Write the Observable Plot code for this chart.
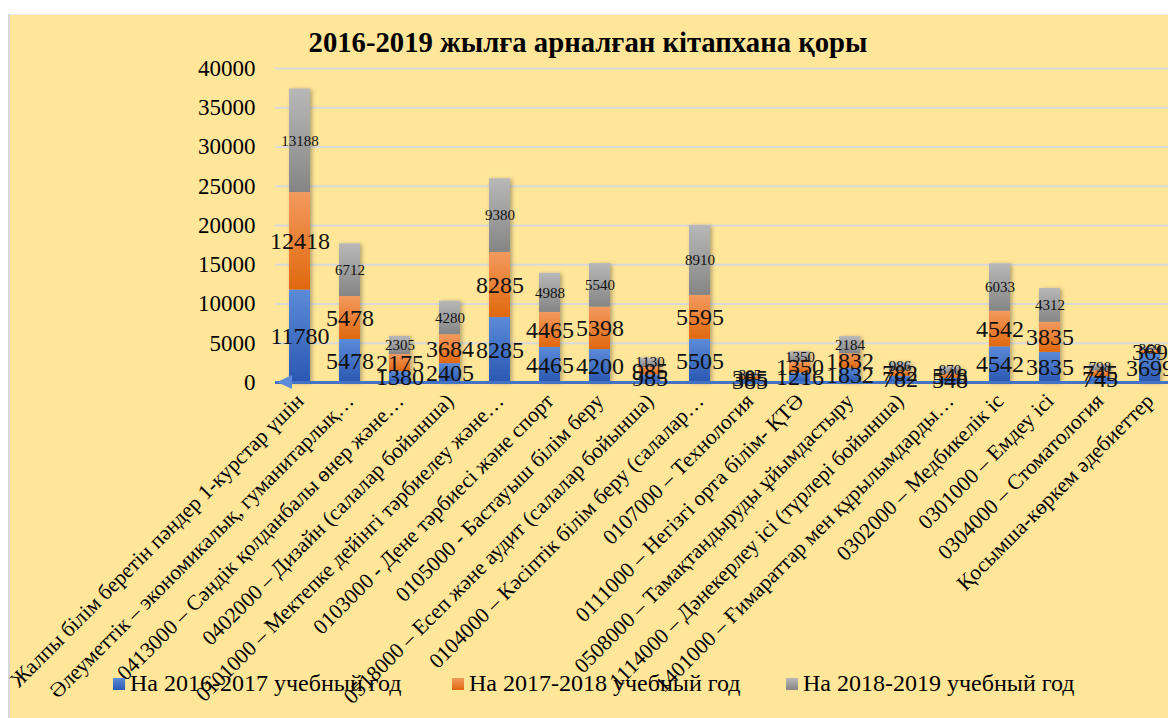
<!DOCTYPE html>
<html><head><meta charset="utf-8">
<script src="https://cdn.jsdelivr.net/npm/d3@7"></script>
<script src="https://cdn.jsdelivr.net/npm/@observablehq/plot@0.6"></script>
<style>
html,body{margin:0;padding:0;background:#fff;}
#page{position:relative;width:1168px;height:718px;overflow:hidden;background:#fff;}
#panel{position:absolute;left:8px;top:14px;width:1160px;height:704px;background:#FFE699;border-left:2px solid #d6d6d6;border-top:1px solid #e6e6e6;box-sizing:border-box;}
#chart{position:absolute;left:0;top:0;}
#chart svg{background:transparent;overflow:visible;}
#chart svg text{font-family:"Liberation Serif",serif !important;}
#title{position:absolute;left:0;width:1176px;top:26px;text-align:center;font-family:"Liberation Serif",serif;font-weight:bold;font-size:28.7px;color:#000;}
.leg{position:absolute;top:670px;display:flex;align-items:center;font-family:"Liberation Serif",serif;font-size:24px;color:#000;white-space:nowrap;}
.sw{width:12px;height:12px;margin-right:5px;}
</style>
</head><body>
<div id="page">
  <div id="panel"></div>
  <div id="chart"></div>
  <div id="title"></div>
  <div id="legend"></div>
</div>
<script>
const chartTitle = "2016-2019 жылға арналған кітапхана қоры";
const categories = [
  "Жалпы білім беретін пәндер 1-курстар үшін",
  "Әлеуметтік – экономикалық, гуманитарлық…",
  "0413000 – Сәндік қолданбалы өнер және…",
  "0402000 – Дизайн (салалар бойынша)",
  "0101000 – Мектепке дейінгі тәрбиелеу және…",
  "0103000 - Дене тәрбиесі және спорт",
  "0105000 - Бастауыш білім беру",
  "0518000 – Есеп және аудит (салалар бойынша)",
  "0104000 – Кәсіптік білім беру (салалар…",
  "0107000 – Технология",
  "0111000 – Негізгі орта білім- ҚТӘ",
  "0508000 – Тамақтандыруды ұйымдастыру",
  "1114000 – Дәнекерлеу ісі (түрлері бойынша)",
  "1401000 – Ғимараттар мен құрылымдарды…",
  "0302000 – Медбикелік іс",
  "0301000 – Емдеу ісі",
  "0304000 – Стоматология",
  "Қосымша-көркем әдебиеттер"
];
const seriesNames = ["На 2016-2017 учебный год", "На 2017-2018 учебный год", "На 2018-2019 учебный год"];
const v2016 = [11780, 5478, 1380, 2405, 8285, 4465, 4200, 985, 5505, 385, 1216, 1832, 782, 548, 4542, 3835, 745, 3699];
const v2017 = [12418, 5478, 2175, 3684, 8285, 4465, 5398, 985, 5595, 385, 1350, 1832, 782, 548, 4542, 3835, 745, 369];
const v2018 = [13188, 6712, 2305, 4280, 9380, 4988, 5540, 1130, 8910, 385, 1350, 2184, 986, 870, 6033, 4312, 798, 369];
const yTicks = [0, 5000, 10000, 15000, 20000, 25000, 30000, 35000, 40000];
const gradients = [
  {id: "g0", top: "#5B8BD8", bottom: "#2A58B2"},
  {id: "g1", top: "#F39A5E", bottom: "#E0680E"},
  {id: "g2", top: "#B8B8B8", bottom: "#858585"}
];

const seriesValues = [v2016, v2017, v2018];
const data = [];
seriesValues.forEach((vals, si) => vals.forEach((v, ci) => data.push({cat: categories[ci], series: seriesNames[si], si, value: v})));

const FONT = "Liberation Serif";
const plot = Plot.plot({
  width: 1168,
  height: 718,
  marginTop: 68,
  marginBottom: 336,
  marginLeft: 275,
  marginRight: 0,
  style: {background: "transparent", fontFamily: FONT, color: "#000"},
  x: {type: "band", domain: categories, range: [275, 1175], paddingInner: 0.58, paddingOuter: 0.29},
  y: {domain: [0, 40000]},
  color: {domain: seriesNames, range: gradients.map(g => `url(#${g.id})`)},
  marks: [
    Plot.gridY(yTicks, {stroke: "#d9d9d9", strokeOpacity: 1, strokeWidth: 2}),
    Plot.barY(data, {x: "cat", y: "value", fill: "series"}),
    Plot.ruleY([0], {stroke: "#4472C4", strokeWidth: 3}),
    Plot.text(data, Plot.stackY({x: "cat", y: "value", text: d => String(d.value), fontSize: d => d.si === 2 ? 15 : 24, fill: "#111", fontFamily: FONT})),
    Plot.axisY({ticks: yTicks, tickFormat: d => String(d), tickSize: 0, tickPadding: 20, fontSize: 23, fontFamily: FONT, label: null, fill: "#000"}),
    Plot.axisX({tickSize: 0, tickRotate: -45, tickPadding: 15, fontSize: 21.5, fontFamily: FONT, label: null, fill: "#000"})
  ]
});

const svg = d3.select(plot);
const defs = svg.insert("defs", ":first-child");
gradients.forEach(g => {
  const lg = defs.append("linearGradient").attr("id", g.id).attr("x1", 0).attr("y1", 0).attr("x2", 0).attr("y2", 1);
  lg.append("stop").attr("offset", "0%").attr("stop-color", g.top);
  lg.append("stop").attr("offset", "100%").attr("stop-color", g.bottom);
});
const f = defs.append("filter").attr("id", "shadow").attr("x", "-20%").attr("y", "-20%").attr("width", "160%").attr("height", "140%");
f.append("feDropShadow").attr("dx", 2).attr("dy", 1).attr("stdDeviation", 2).attr("flood-color", "#000").attr("flood-opacity", 0.3);
svg.selectAll("g[aria-label='bar']").attr("filter", "url(#shadow)");

// axis arrow at the left end of the baseline
const y0 = plot.scale("y").apply(0);
const xr = plot.scale("x").range;
svg.append("polygon")
  .attr("points", `${xr[0] + 2},${y0} ${xr[0] + 17},${y0 - 7} ${xr[0] + 17},${y0 + 7}`)
  .attr("fill", "#5B8BD9");

document.getElementById("chart").appendChild(plot);
document.getElementById("title").textContent = chartTitle;

const legendX = [113, 452, 786];
const leg = document.getElementById("legend");
seriesNames.forEach((s, i) => {
  const d = document.createElement("div");
  d.className = "leg";
  d.style.left = legendX[i] + "px";
  d.innerHTML = `<div class="sw" style="background:linear-gradient(${gradients[i].top},${gradients[i].bottom})"></div><span>${s}</span>`;
  leg.appendChild(d);
});
</script>
</body></html>
